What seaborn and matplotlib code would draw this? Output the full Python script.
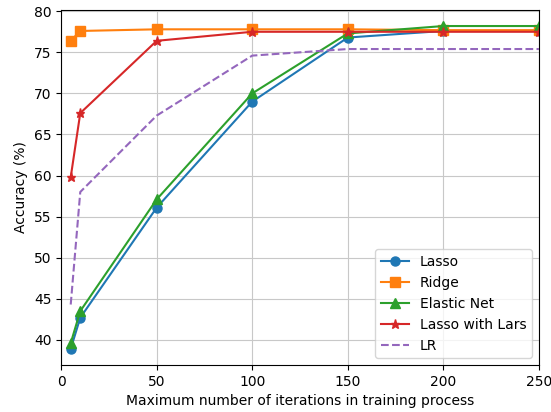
import matplotlib
matplotlib.use("Agg")
import matplotlib.pyplot as plt
import seaborn as sns
import pandas as pd

iterations = [5, 10, 50, 100, 150, 200, 250]
lasso = [38.9, 42.7, 56.1, 69.0, 76.8, 77.6, 77.6]
ridge = [76.4, 77.6, 77.8, 77.8, 77.8, 77.7, 77.7]
elastic_net = [39.6, 43.5, 57.1, 70.0, 77.3, 78.2, 78.2]
lasso_lars = [59.8, 67.6, 76.4, 77.5, 77.5, 77.5, 77.5]
lr = [44.3, 58.0, 67.3, 74.6, 75.4, 75.4, 75.4]

series = [
    ("Lasso", lasso, "o", "-", "#1f77b4"),
    ("Ridge", ridge, "s", "-", "#ff7f0e"),
    ("Elastic Net", elastic_net, "^", "-", "#2ca02c"),
    ("Lasso with Lars", lasso_lars, "*", "-", "#d62728"),
    ("LR", lr, None, "--", "#9467bd"),
]

fig, ax = plt.subplots(figsize=(5.51, 4.12), dpi=100)
for name, vals, mk, ls, col in series:
    df = pd.DataFrame({"x": iterations, "y": vals})
    kw = dict(marker=mk, markersize=6.5, markeredgewidth=1, markeredgecolor=col) if mk else {}
    sns.lineplot(data=df, x="x", y="y", ax=ax, label=name, color=col,
                 linestyle=ls, linewidth=1.5, **kw)

ax.set_xlim(0, 250)
ax.set_xticks([0, 50, 100, 150, 200, 250])
ax.set_yticks([40, 45, 50, 55, 60, 65, 70, 75, 80])
ax.grid(True, color="#c8c8c8")
ax.set_xlabel("Maximum number of iterations in training process")
ax.set_ylabel("Accuracy (%)")
ax.legend(loc="lower right")
fig.subplots_adjust(left=0.111, right=0.978, top=0.976, bottom=0.114)
fig.savefig("out.png", dpi=100)
